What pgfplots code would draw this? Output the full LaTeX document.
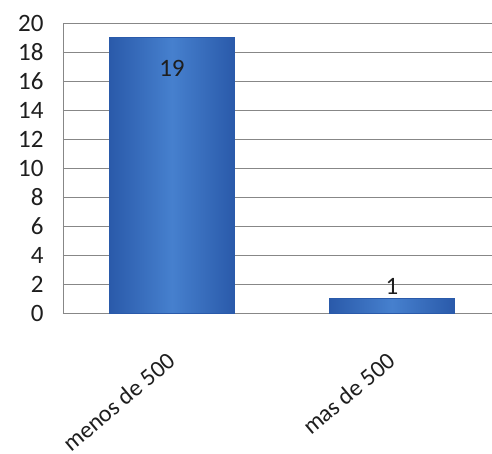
\documentclass[border=0pt]{standalone}
\usepackage{pgfplots}
\pgfplotsset{compat=1.18}
\usepackage{fontspec}
\setmainfont{Carlito}

\definecolor{barmid}{RGB}{70,128,206}
\definecolor{baredge}{RGB}{42,90,170}
\definecolor{gridc}{RGB}{135,135,135}
\definecolor{txt}{RGB}{30,30,30}

\begin{document}
\begin{tikzpicture}
  \begin{axis}[
      scale only axis,
      width=429bp, height=290bp,
      ybar, bar width=0.57,
      xmin=-0.495, xmax=1.4545,
      ymin=0, ymax=20,
      ytick={0,2,...,20},
      xtick={0,1},
      xticklabels={menos de 500, mas de 500},
      tick style={draw=none},
      ymajorgrids,
      grid style={gridc, line width=1pt},
      axis line style={gridc, line width=0.8pt},
      axis x line*=bottom,
      axis y line*=left,
      axis line style={-},
      font=\fontsize{25bp}{29bp}\selectfont,
      tick label style={txt},
      yticklabel style={xshift=-16bp},
      xticklabel style={rotate=40, anchor=north east, inner sep=0pt,
        xshift=-26bp, yshift=-22bp,
        font=\fontsize{24bp}{28bp}\selectfont},
      /pgf/number format/assume math mode=true,
      clip=false,
    ]
    \addplot[bar shift=0pt, draw=baredge, line width=1pt,
      left color=baredge, right color=baredge, middle color=barmid,
      nodes near coords, every node near coord/.append style={anchor=north, yshift=-19bp, txt}]
      coordinates {(0,19)};
    \addplot[bar shift=0pt, draw=baredge, line width=1pt,
      left color=baredge, right color=baredge, middle color=barmid,
      nodes near coords, every node near coord/.append style={anchor=south, yshift=0bp, txt}]
      coordinates {(1,1)};
    \coordinate (ll) at (rel axis cs:0,0);
    \coordinate (ur) at (rel axis cs:1,1);
  \end{axis}
  \pgfresetboundingbox
  \path ([xshift=-63bp,yshift=-141bp]ll) rectangle ([yshift=23bp]ur);
\end{tikzpicture}
\end{document}
